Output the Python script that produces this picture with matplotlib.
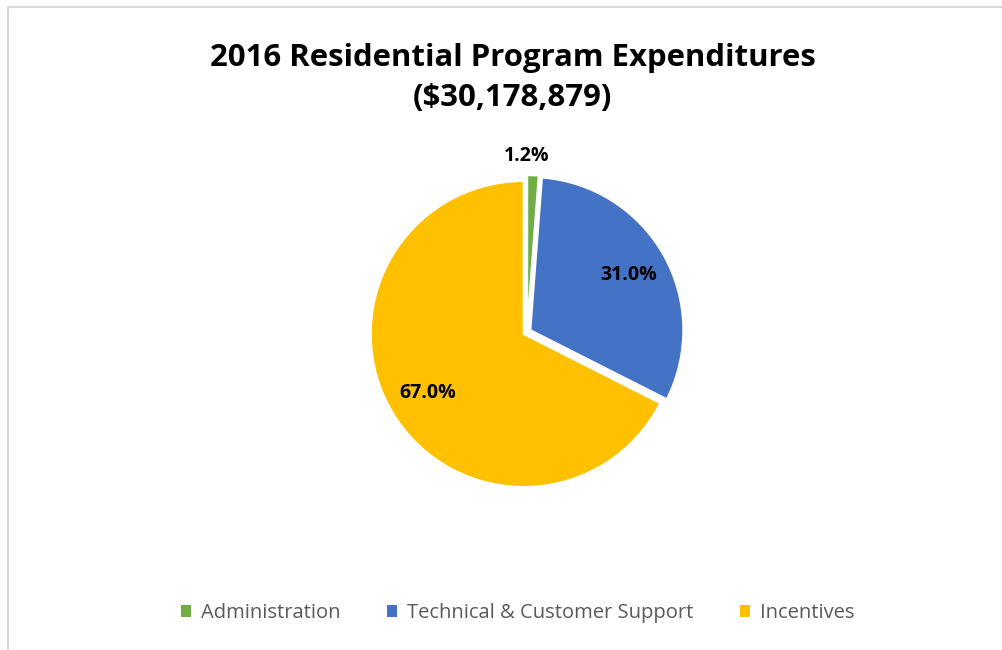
import matplotlib.pyplot as plt
from matplotlib.lines import Line2D
from matplotlib.patches import Patch

# data
categories = ["Administration", "Technical & Customer Support", "Incentives"]
shares = [1.2, 31.0, 67.0]
colors = ["#70AD47", "#4472C4", "#FFC000"]
title = "2016 Residential Program Expenditures\n($30,178,879)"

W, H = 1003, 650
fig = plt.figure(figsize=(W / 100, H / 100), dpi=100)
fig.patch.set_facecolor("white")

# chart area border (top and left visible)
fig.add_artist(Line2D([8 / W, 8 / W], [0, 1 - 7 / H], color="#D9D9D9", lw=1.5))
fig.add_artist(Line2D([8 / W, 1], [1 - 7 / H, 1 - 7 / H], color="#D9D9D9", lw=1.5))

# pie axes: 1 data unit = R px
R = 153
cx, cy = 527, 332
half = 220
ax = fig.add_axes([(cx - half) / W, (H - cy - half) / H, 2 * half / W, 2 * half / H])

wedges, texts = ax.pie(shares, colors=colors, startangle=90, counterclock=False,
                       explode=[0.025, 0.025, 0.025], radius=1,
                       wedgeprops=dict(edgecolor="white", linewidth=1.5),
                       labels=["%.1f%%" % s for s in shares], labeldistance=0.74,
                       textprops=dict(fontsize=14, fontweight="bold", color="black",
                                      family="Open Sans"))
ax.set_xlim(-half / R, half / R)
ax.set_ylim(-half / R, half / R)
ax.set_aspect("equal")
ax.axis("off")

# small slice label sits outside
texts[0].set_position((0, 176 / R))
for t in texts:
    t.set_ha("center")
    t.set_va("center")

fig.text(0.511, 1 - 78 / H, title, ha="center", va="center", fontsize=22.4,
         fontweight="bold", family="Open Sans", linespacing=1.42)

handles = [Patch(facecolor=c, edgecolor="none") for c in colors]
fig.legend(handles, categories, loc="center", bbox_to_anchor=(518 / W, 1 - 613 / H),
           ncol=3, frameon=False, labelcolor="#595959",
           handlelength=0.5, handleheight=0.5, handletextpad=0.5, columnspacing=2.3,
           prop=dict(family="Open Sans", size=14.5))

fig.savefig("out.png", dpi=100)
